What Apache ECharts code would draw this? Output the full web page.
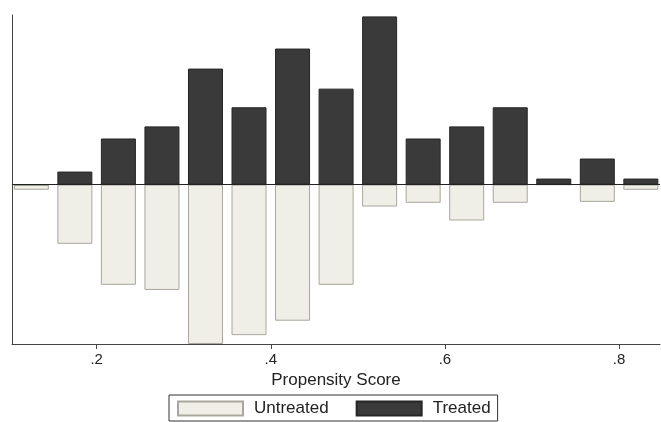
<!DOCTYPE html>
<html>
<head>
<meta charset="utf-8">
<script src="https://cdn.jsdelivr.net/npm/echarts@6/dist/echarts.min.js"></script>
<style>
  html, body { margin: 0; padding: 0; background: #fff; }
  #chart { width: 661px; height: 422px; }
</style>
</head>
<body>
<div id="chart"></div>
<script>
// bin centres (width .05) and density heights
const binCenters = [0.125, 0.175, 0.225, 0.275, 0.325, 0.375, 0.425, 0.475, 0.525, 0.575, 0.625, 0.675, 0.725, 0.775, 0.825];
const treated = [0, 0.28, 0.99, 1.25, 2.49, 1.66, 2.92, 2.06, 3.61, 0.99, 1.25, 1.66, 0.13, 0.56, 0.13];
const untreated = [0.11, 1.27, 2.15, 2.26, 3.42, 3.23, 2.92, 2.15, 0.47, 0.39, 0.77, 0.39, 0, 0.37, 0.11];
const tickValues = [0.2, 0.4, 0.6, 0.8];

const font = 'Liberation Sans, Arial, sans-serif';
const chart = echarts.init(document.getElementById('chart'));

chart.setOption({
  animation: false,
  textStyle: { fontFamily: font },
  grid: { left: 12, right: 1, top: 15, bottom: 78, containLabel: false },
  legend: {
    left: 169,
    top: 395,
    orient: 'horizontal',
    data: ['Untreated', 'Treated'],
    icon: 'rect',
    itemWidth: 65,
    itemHeight: 14,
    itemGap: 27,
    padding: [5, 7, 4, 8],
    borderColor: '#333',
    borderWidth: 1,
    textStyle: { fontFamily: font, fontSize: 17, color: '#222', padding: [0, 0, 0, 6] },
  },
  xAxis: {
    type: 'value',
    min: 0.1028,
    max: 0.847,
    name: 'Propensity Score',
    nameLocation: 'middle',
    nameGap: 25,
    nameTextStyle: { fontFamily: font, fontSize: 17, color: '#222' },
    axisLine: { onZero: false, lineStyle: { color: '#444', width: 1 } },
    axisTick: { show: true, customValues: tickValues, length: 5, lineStyle: { color: '#444' } },
    axisLabel: {
      customValues: tickValues,
      margin: 8,
      fontSize: 15,
      color: '#222',
      formatter: (v) => String(Math.round(v * 10) / 10).replace('0.', '.'),
    },
    splitLine: { show: false },
  },
  yAxis: {
    type: 'value',
    min: -3.42,
    max: 3.64,
    axisLine: { show: true, lineStyle: { color: '#444', width: 1 } },
    axisTick: { show: false },
    axisLabel: { show: false },
    splitLine: { show: false },
  },
  series: [
    {
      name: 'Untreated',
      type: 'bar',
      barWidth: 35,
      barGap: '-100%',
      data: binCenters.map((x, i) => [x, -untreated[i]]),
      itemStyle: { color: '#efeee7', borderColor: '#a9a79b', borderWidth: 1 },
    },
    {
      name: 'Treated',
      type: 'bar',
      barWidth: 35,
      barGap: '-100%',
      data: binCenters.map((x, i) => [x, treated[i]]),
      itemStyle: { color: '#3a3a3a', borderColor: '#262626', borderWidth: 1 },
      markLine: {
        silent: true,
        symbol: 'none',
        label: { show: false },
        lineStyle: { color: '#222', width: 1, type: 'solid' },
        data: [{ yAxis: 0 }],
      },
    },
  ],
});
</script>
</body>
</html>
